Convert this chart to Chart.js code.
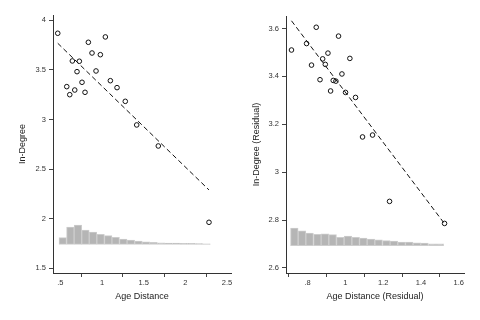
<!DOCTYPE html>
<html>
<head>
<meta charset="utf-8">
<script src="https://cdn.jsdelivr.net/npm/chart.js@4/dist/chart.umd.min.js"></script>
<style>
  html, body { margin: 0; padding: 0; background: #ffffff; }
  #wrap { position: relative; width: 480px; height: 320px; }
  .cell { position: absolute; top: 0; width: 240px; height: 320px; }
</style>
</head>
<body>
<div id="wrap">
  <div class="cell" style="left:0"><canvas id="c1" width="240" height="320"></canvas></div>
  <div class="cell" style="left:240px"><canvas id="c2" width="240" height="320"></canvas></div>
</div>
<script>
// ---------- Left panel: In-Degree vs Age Distance ----------
const leftX = [0.469, 0.836, 1.040, 0.880, 0.980, 0.644, 0.728, 0.700, 0.928, 1.100,
               0.760, 0.577, 1.180, 0.673, 0.796, 0.613, 1.279, 1.416, 1.675, 2.283];
const leftY = [3.869, 3.778, 3.832, 3.670, 3.653, 3.590, 3.587, 3.482, 3.489, 3.391,
               3.375, 3.331, 3.321, 3.297, 3.274, 3.250, 3.183, 2.945, 2.733, 1.964];
const leftFitX = [0.469, 2.283];
const leftFitY = [3.768, 2.290];
const leftBinX = [0.529, 0.620, 0.711, 0.801, 0.892, 0.983, 1.074, 1.164, 1.255, 1.346,
                  1.437, 1.527, 1.618, 1.709, 1.800, 1.890, 1.981, 2.072, 2.163, 2.254];
const leftBinTop = [1.809, 1.916, 1.936, 1.886, 1.866, 1.843, 1.829, 1.813, 1.796, 1.785,
                    1.775, 1.768, 1.762, 1.758, 1.755, 1.755, 1.752, 1.752, 1.750, 1.748];
const leftBinBase = 1.742;
const leftXTicks = [0.5, 1, 1.5, 2, 2.5];
const leftYTicks = [1.5, 2, 2.5, 3, 3.5, 4];

// ---------- Right panel: residuals ----------
const rightX = [0.715, 0.795, 0.846, 0.821, 0.866, 0.880, 0.894, 0.908, 0.922, 0.936,
                0.950, 0.964, 0.982, 1.001, 1.024, 1.054, 1.091, 1.144, 1.234, 1.525];
const rightY = [3.510, 3.537, 3.605, 3.447, 3.386, 3.473, 3.450, 3.497, 3.339, 3.383,
                3.380, 3.568, 3.410, 3.333, 3.475, 3.312, 3.147, 3.155, 2.878, 2.786];
const rightFitX = [0.715, 1.520];
const rightFitY = [3.632, 2.790];
const rightBinX = [0.730, 0.771, 0.811, 0.852, 0.892, 0.933, 0.973, 1.014, 1.055, 1.095,
                   1.136, 1.176, 1.217, 1.257, 1.298, 1.338, 1.379, 1.419, 1.460, 1.500];
const rightBinTop = [2.767, 2.755, 2.746, 2.740, 2.743, 2.739, 2.728, 2.733, 2.728, 2.725,
                     2.721, 2.717, 2.714, 2.712, 2.708, 2.708, 2.705, 2.704, 2.701, 2.701];
const rightBinBase = 2.693;
const rightXTicks = [0.8, 1, 1.2, 1.4, 1.6];
const rightYTicks = [2.6, 2.8, 3, 3.2, 3.4, 3.6];

const FONT = "'Liberation Sans', Arial, Helvetica, sans-serif";

function fmt(v) {
  let s = String(Math.round(v * 1000) / 1000);
  if (s.startsWith('0.')) s = s.slice(1);
  return s;
}

function makeChart(id, p) {
  const pts = p.x.map((v, i) => ({ x: v, y: p.y[i] }));
  const fit = p.fitX.map((v, i) => ({ x: v, y: p.fitY[i] }));
  const bars = p.binX.map((v, i) => ({ x: v, y: [p.binBase, p.binTop[i]] }));
  return new Chart(document.getElementById(id), {
    type: 'scatter',
    data: {
      datasets: [
        {
          type: 'bar',
          data: bars,
          backgroundColor: '#b5b5b5',
          borderColor: '#cdcdcd',
          borderWidth: 1,
          borderSkipped: false,
          barPercentage: 1,
          categoryPercentage: 1,
          grouped: false,
          order: 3
        },
        {
          type: 'line',
          data: fit,
          borderColor: '#111111',
          borderWidth: 1,
          borderDash: [5, 3],
          pointRadius: 0,
          fill: false,
          order: 2
        },
        {
          type: 'scatter',
          data: pts,
          pointRadius: 2.3,
          pointBorderWidth: 1,
          borderColor: '#111111',
          backgroundColor: 'rgba(0,0,0,0)',
          order: 1
        }
      ]
    },
    options: {
      responsive: false,
      animation: false,
      devicePixelRatio: 1,
      layout: { padding: { top: p.padTop, right: p.padRight, left: 0, bottom: 0 } },
      plugins: { legend: { display: false }, tooltip: { enabled: false } },
      scales: {
        x: {
          type: 'linear',
          position: 'bottom',
          min: p.xMin, max: p.xMax,
          offset: false,
          afterBuildTicks: s => { s.ticks = p.xTicks.map(v => ({ value: v })); },
          afterFit: s => { s.height = 47; },
          grid: { display: true, drawOnChartArea: false, drawTicks: true, tickLength: 4, color: '#444' },
          border: { display: true, color: '#333', width: 1 },
          ticks: { padding: 1, color: '#333', font: { family: FONT, size: 7.5 }, maxRotation: 0, autoSkip: false,
                   callback: v => fmt(v) },
          title: { display: true, text: p.xTitle, color: '#222', font: { family: FONT, size: 9 },
                   padding: { top: 0, bottom: 18.5 } }
        },
        y: {
          type: 'linear',
          min: p.yMin, max: p.yMax,
          afterBuildTicks: s => { s.ticks = p.yTicks.map(v => ({ value: v })); },
          afterFit: s => { s.width = p.yWidth; },
          grid: { display: true, drawOnChartArea: false, drawTicks: true, tickLength: 4, color: '#444' },
          border: { display: true, color: '#333', width: 1 },
          ticks: { padding: 3, color: '#333', font: { family: FONT, size: 7.5 }, autoSkip: false,
                   callback: v => fmt(v) },
          title: { display: true, text: p.yTitle, color: '#222', font: { family: FONT, size: 9 },
                   padding: { top: p.yTitlePad, bottom: 0 } }
        }
      }
    }
  });
}

makeChart('c1', {
  x: leftX, y: leftY, fitX: leftFitX, fitY: leftFitY,
  binX: leftBinX, binTop: leftBinTop, binBase: leftBinBase,
  xTicks: leftXTicks, yTicks: leftYTicks,
  xMin: 0.412, xMax: 2.547, yMin: 1.453, yMax: 4.053,
  padTop: 15, padRight: 9, yWidth: 53, yTitlePad: 17.5,
  xTitle: 'Age Distance', yTitle: 'In-Degree'
});

makeChart('c2', {
  x: rightX, y: rightY, fitX: rightFitX, fitY: rightFitY,
  binX: rightBinX, binTop: rightBinTop, binBase: rightBinBase,
  xTicks: rightXTicks, yTicks: rightYTicks,
  xMin: 0.686, xMax: 1.628, yMin: 2.579, yMax: 3.652,
  padTop: 16, padRight: 16, yWidth: 46, yTitlePad: 11,
  xTitle: 'Age Distance (Residual)', yTitle: 'In-Degree (Residual)'
});
</script>
</body>
</html>
